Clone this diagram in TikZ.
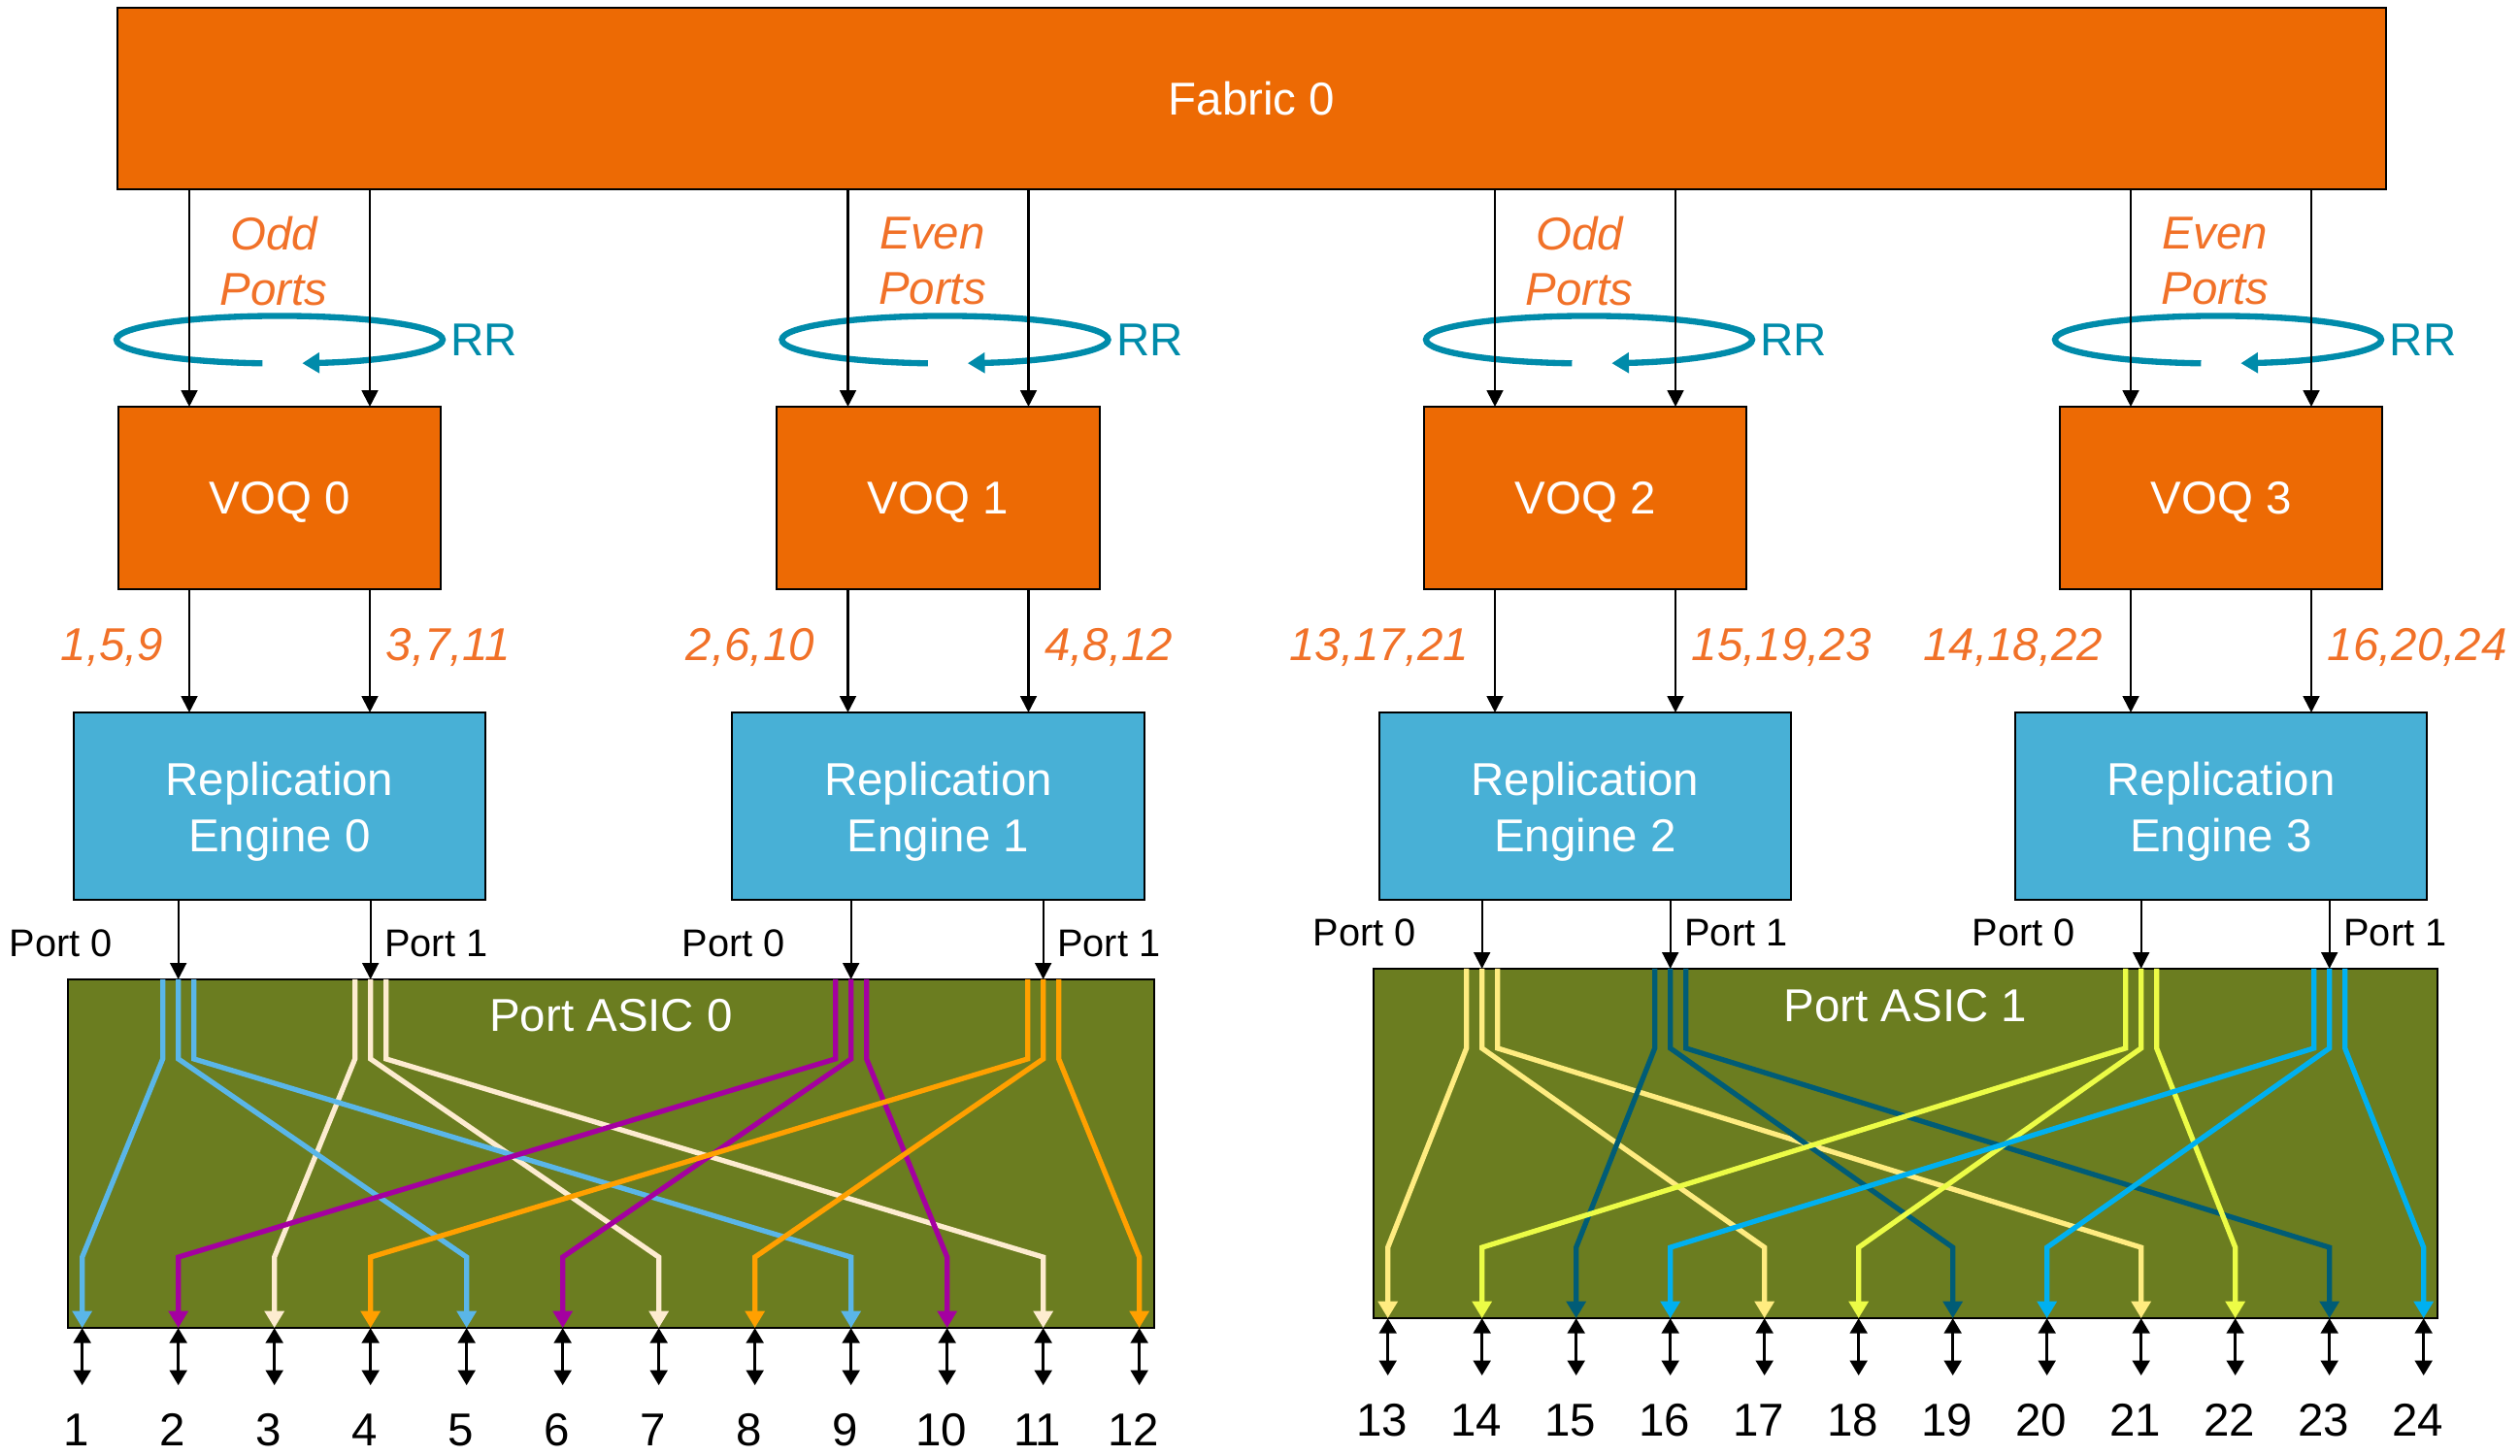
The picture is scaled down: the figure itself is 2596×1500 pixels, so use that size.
\documentclass[tikz,border=0pt]{standalone}
\usepackage{fontspec}
\setmainfont{Liberation Sans}
\usetikzlibrary{arrows.meta,calc}

\definecolor{fabricorange}{RGB}{237,106,4}
\definecolor{portsorange}{RGB}{241,113,40}
\definecolor{rrteal}{RGB}{0,139,170}
\definecolor{engineblue}{RGB}{72,176,214}
\definecolor{asicgreen}{RGB}{107,125,32}
\definecolor{routeblue}{RGB}{90,182,232}
\definecolor{routecream}{RGB}{253,236,208}
\definecolor{routepurple}{RGB}{164,0,160}
\definecolor{routeorange}{RGB}{255,160,0}
\definecolor{routelemon}{RGB}{255,236,128}
\definecolor{routeteal}{RGB}{0,92,118}
\definecolor{routelime}{RGB}{236,252,70}
\definecolor{routecyan}{RGB}{0,176,240}

\begin{document}
\begin{tikzpicture}[x=0.01cm, y=-0.01cm,
  txt/.style={font=\fontsize{13.5}{16.4}\selectfont, inner sep=0pt},
  box/.style={draw=black, line width=0.6pt, inner sep=0pt, outer sep=0pt},
  orangebox/.style={box, fill=fabricorange},
  engbox/.style={box, fill=engineblue},
  asicbox/.style={box, fill=asicgreen},
  boxtxt/.style={txt, text=white, align=center},
  lsttxt/.style={txt, text=portsorange, font=\fontsize{13.5}{16.4}\selectfont\itshape},
  portlbl/.style={inner sep=0pt, font=\fontsize{11.3}{13.5}\selectfont},
  blk/.style={line width=0.6pt, -{Triangle[length=4.8pt,width=4.8pt]}},
  bidir/.style={line width=0.9pt, {Triangle[length=4.4pt,width=5pt]}-{Triangle[length=4.4pt,width=5pt]}},
  route/.style={line width=1.5pt, -{Triangle[length=5pt,width=5.6pt]}},
  rrloop/.style={draw=rrteal, line width=1.8pt, -{Triangle[length=5pt,width=5.8pt]}}]
  \useasboundingbox (0,0) rectangle (2596,1500);

  % draw fabric box
  \node[orangebox, minimum width=23.35cm, minimum height=1.87cm] (fab) at (1289.5,101.5) {};
  \node[boxtxt] (fabtxt) at (fab) {Fabric 0};

  % draw voq, round robin and replication engine columns
  \foreach \i/\cx/\ex/\gap/\kind/\lft/\rgt in {0/288/0/26/Odd/{1,5,9}/{3,7,11}, 1/966.5/7/34/Even/{2,6,10}/{4,8,12},
      2/1633/4/26/Odd/{13,17,21}/{15,19,23}, 3/2288/-3/28/Even/{14,18,22}/{16,20,24}}{
    \node[orangebox, minimum width=3.32cm, minimum height=1.88cm] (voq\i) at (\cx,513) {};
    \node[boxtxt] (voqtxt\i) at ($(voq\i)+(0,4)$) {VOQ \i};
    \node[engbox, minimum width=4.24cm, minimum height=1.93cm] (re\i) at (\cx,830.5) {};
    \node[boxtxt] (retxt\i) at ($(re\i)+(0,6)$) {Replication\\Engine \i};
    \path (voq\i.north) ++(-93,0) coordinate (va\i) ++(186,0) coordinate (vb\i);
    \draw[rrloop] ($(voq\i.north)+(\ex,-69)$) ++(96:168 and 24.5)
      arc[start angle=96, end angle=442, x radius=168, y radius=24.5];
    \node[txt, text=rrteal, anchor=west] (rr\i) at ($(voq\i.north)+(\ex+176,-69)$) {RR};
    \node[lsttxt, align=center] (kind\i) at ($(voq\i.north)+(-6,-150)$) {\kind\\Ports};
    \draw[blk] (fab.south -| va\i) -- (va\i);
    \draw[blk] (fab.south -| vb\i) -- (vb\i);
    \draw[blk] (voq\i.south -| va\i) -- (re\i.north -| va\i);
    \draw[blk] (voq\i.south -| vb\i) -- (re\i.north -| vb\i);
    \node[lsttxt, anchor=base east] (lsta\i) at ($(voq\i.south -| va\i)+(-\gap,73)$) {\lft};
    \node[lsttxt, anchor=base west] (lstb\i) at ($(voq\i.south -| vb\i)+(16,73)$) {\rgt};
  }

  % draw port asics
  \node[asicbox, minimum width=11.19cm, minimum height=3.59cm] (asic0) at (629.5,1188.5) {};
  \node[asicbox, minimum width=10.96cm, minimum height=3.6cm] (asic1) at (1963,1178) {};
  \node[boxtxt] (asictxt0) at ($(asic0.north)+(0,37)$) {Port ASIC 0};
  \node[boxtxt] (asictxt1) at ($(asic1.north)+(0,38)$) {Port ASIC 1};

  % front panel ports
  \foreach \n in {1,...,12}
    \coordinate (p\n) at ($(asic0.south west)+({15+99*(\n-1)},0)$);
  \foreach \n in {13,...,24}
    \coordinate (p\n) at ($(asic1.south west)+({15+97*(\n-13)},0)$);
  \foreach \n in {1,...,24}{
    \coordinate (q\n) at ($(p\n)+(0,59)$);
    \draw[bidir] (p\n) -- (q\n);
    \node[txt, anchor=base] (num\n) at ($(p\n)+(-6,121)$) {\n};
  }

  % engine ports into the port asics
  \foreach \e/\a/\s/\k/\anc/\dx in {0/asic0/2/0/east/-67, 0/asic0/4/1/west/14, 1/asic0/9/0/east/-67,
      1/asic0/11/1/west/14, 2/asic1/14/0/east/-67, 2/asic1/16/1/west/14, 3/asic1/21/0/east/-67,
      3/asic1/23/1/west/14}{
    \draw[blk] (re\e.south -| p\s) -- (\a.north -| p\s);
    \node[portlbl, anchor=base \anc] (port\s) at ($(\a.north -| p\s)+(\dx,-23)$) {Port \k};
  }

  % draw replicated copies inside the asics
  \foreach \a/\s/\c/\da/\db/\dc in {asic0/4/routecream/3/7/11, asic0/2/routeblue/1/5/9,
      asic0/9/routepurple/2/6/10, asic0/11/routeorange/4/8/12, asic1/14/routelemon/13/17/21,
      asic1/16/routeteal/15/19/23, asic1/21/routelime/14/18/22, asic1/23/routecyan/16/20/24}
    \foreach \o/\d in {-16/\da, 0/\db, 16/\dc}
      \draw[route, draw=\c] ($(\a.north -| p\s)+(\o,0)$) -- ++(0,82) -- ($(p\d)+(0,-73)$) -- (p\d);
\end{tikzpicture}
\end{document}
